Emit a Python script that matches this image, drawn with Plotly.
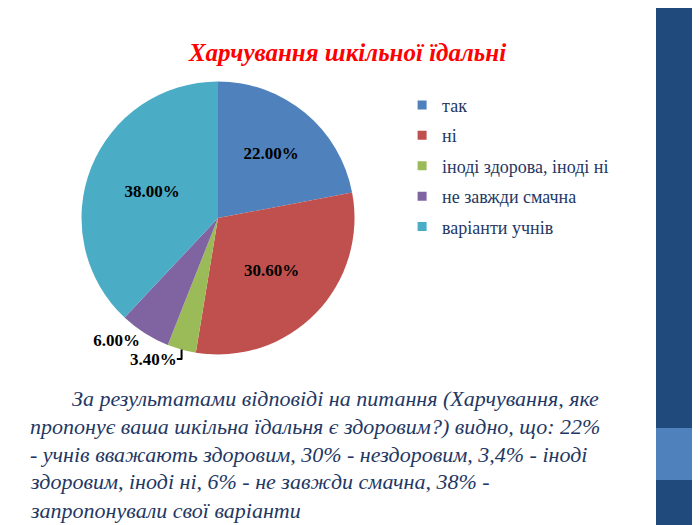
import plotly.graph_objects as go

# pie data
categories = ['так', 'ні', 'іноді здорова, іноді ні', 'не завжди смачна', 'варіанти учнів']
shares = [22.0, 30.6, 3.4, 6.0, 38.0]
colors = ['#4F81BD', '#C0504D', '#9BBB59', '#8064A2', '#4BACC6']
label_pos = ['inside', 'inside', 'outside', 'outside', 'inside']

title_text = 'Харчування шкільної їдальні'
body_lines = [
    'За результатами відповіді на питання (Харчування, яке',
    'пропонує ваша шкільна їдальня є здоровим?) видно, що: 22%',
    '- учнів вважають здоровим, 30% - нездоровим, 3,4% - іноді',
    'здоровим, іноді ні, 6% - не завжди смачна, 38% -',
    'запропонували свої варіанти',
]

serif = 'Liberation Serif, Times New Roman, serif'
navy = '#1F3864'

fig = go.Figure()
fig.add_trace(go.Pie(
    labels=categories,
    values=shares,
    sort=False,
    direction='clockwise',
    rotation=0,
    marker=dict(colors=colors, line=dict(color='white', width=0)),
    texttemplate='<b>%{value:.2f}%</b>',
    textposition=label_pos,
    textfont=dict(family=serif, size=17, color='black'),
    insidetextorientation='horizontal',
    domain=dict(x=[0.07, 0.53], y=[0.34, 0.86]),
    hoverinfo='label+value',
    showlegend=False,
))

# legend entries (one per slice so the rows can be spaced like the slide)
for cat, col in zip(categories, colors):
    fig.add_trace(go.Scatter(
        x=[None], y=[None], mode='markers', name=cat, legendgroup=cat,
        marker=dict(symbol='square', size=9, color=col),
    ))

fig.update_layout(
    width=700, height=525,
    margin=dict(l=0, r=0, t=0, b=0),
    paper_bgcolor='white',
    plot_bgcolor='rgba(0,0,0,0)',
    font=dict(family=serif),
    xaxis=dict(visible=False),
    yaxis=dict(visible=False),
    title=dict(
        text='<b><i>' + title_text + '</i></b>', x=0.485, xanchor='center',
        y=0.915, yanchor='middle',
        font=dict(family=serif, size=25, color='#FF0000'),
    ),
    legend=dict(
        x=0.563, y=0.85, xanchor='left', yanchor='top',
        font=dict(family=serif, size=18, color=navy),
        bgcolor='rgba(0,0,0,0)', itemwidth=30, tracegroupgap=4,
    ),
    shapes=[
        # slide side band
        dict(type='rect', xref='paper', yref='paper', x0=648 / 700, x1=1, y0=0, y1=1,
             fillcolor='#204A7C', line=dict(width=0), layer='above'),
        dict(type='rect', xref='paper', yref='paper', x0=648 / 700, x1=1,
             y0=1 - 472 / 525, y1=1 - 420 / 525,
             fillcolor='#4F81BD', line=dict(width=0), layer='above'),
    ],
)

# commentary text under the chart
line_x = [62, 20, 20, 20, 20]
for i, line in enumerate(body_lines):
    fig.add_annotation(
        text='<i>' + line + '</i>', xref='paper', yref='paper',
        x=line_x[i] / 700, y=1 - (390 + 28 * i) / 525,
        xanchor='left', yanchor='middle', showarrow=False,
        font=dict(family=serif, size=22, color=navy),
    )

fig.write_html('out.html')
